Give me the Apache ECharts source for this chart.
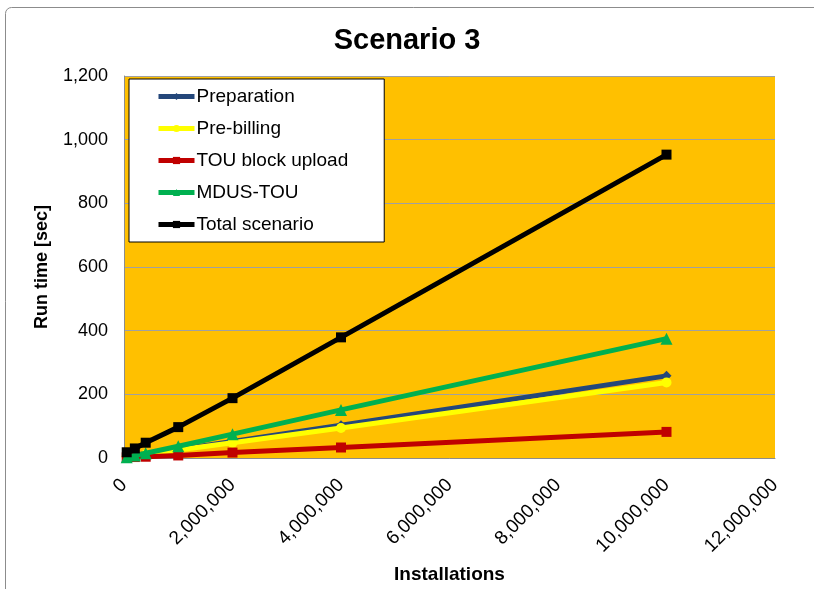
<!DOCTYPE html>
<html>
<head>
<meta charset="utf-8">
<script src="https://cdn.jsdelivr.net/npm/echarts@6/dist/echarts.min.js"></script>
<style>
  html, body { margin: 0; padding: 0; background: #ffffff; }
  #chart { width: 814px; height: 589px; }
</style>
</head>
<body>
<div id="chart"></div>
<script>
// Number of installations (x) and run times in seconds (y) per step
const installations = [50000, 200000, 400000, 1000000, 2000000, 4000000, 10000000];
const preparation   = [5, 8, 12, 27, 52, 103, 258];
const preBilling    = [4, 7, 11, 25, 48, 94, 237];
const touUpload     = [2, 3, 4, 8, 17, 33, 82];
const mdusTou       = [2, 8, 15, 37, 75, 151, 375];
const totalScenario = [18, 30, 48, 97, 188, 379, 953];

const seriesNames = ['Preparation', 'Pre-billing', 'TOU block upload', 'MDUS-TOU', 'Total scenario'];
const seriesValues = [preparation, preBilling, touUpload, mdusTou, totalScenario];
const seriesColors = ['#24477A', '#FFFF00', '#C00000', '#00B050', '#000000'];
const seriesSymbols = ['diamond', 'circle', 'rect', 'triangle', 'rect'];

const FONT = '"Liberation Sans", Arial, sans-serif';
const fmt = v => Number(v).toLocaleString('en-US');

const chart = echarts.init(document.getElementById('chart'), null, { renderer: 'canvas' });

chart.setOption({
  animation: false,
  backgroundColor: '#ffffff',
  graphic: [{
    type: 'rect',
    shape: { x: 5.5, y: 7.5, width: 830, height: 620, r: 6 },
    style: { fill: 'none', stroke: '#8c8c8c', lineWidth: 1 },
    z: -1
  }],
  title: {
    text: 'Scenario 3',
    left: 'center',
    top: 21,
    textStyle: { fontFamily: FONT, fontSize: 29, fontWeight: 'bold', color: '#000' }
  },
  grid: {
    left: 124, right: 39, top: 76, bottom: 130,
    show: true, backgroundColor: '#FFC000', borderWidth: 0
  },
  legend: {
    left: 129, top: 79,
    orient: 'vertical',
    backgroundColor: '#ffffff',
    borderColor: '#000000',
    borderWidth: 1,
    padding: [8, 36, 8, 27],
    itemGap: 13,
    itemWidth: 36,
    itemHeight: 9,
    textStyle: { fontFamily: FONT, fontSize: 19, color: '#000', padding: [0, 0, 0, -3] },
    data: seriesNames.map((name, i) => ({
      name,
      lineStyle: { color: seriesColors[i], width: 5 },
      itemStyle: { color: seriesColors[i] }
    }))
  },
  xAxis: {
    type: 'value',
    min: 0, max: 12000000, interval: 2000000,
    name: 'Installations',
    nameLocation: 'middle',
    nameGap: 107,
    nameTextStyle: { fontFamily: FONT, fontSize: 19, fontWeight: 'bold', color: '#000' },
    axisLine: { show: true, lineStyle: { color: '#8c8c8c', width: 1 } },
    axisTick: { show: false },
    splitLine: { show: false },
    axisLabel: {
      rotate: 45, margin: 24,
      fontFamily: FONT, fontSize: 19, color: '#000',
      formatter: fmt
    }
  },
  yAxis: {
    type: 'value',
    min: 0, max: 1200, interval: 200,
    name: 'Run time [sec]',
    nameLocation: 'middle',
    nameGap: 73,
    nameTextStyle: { fontFamily: FONT, fontSize: 18, fontWeight: 'bold', color: '#000' },
    axisLine: { show: true, lineStyle: { color: '#8c8c8c', width: 1 } },
    axisTick: { show: false },
    splitLine: { show: true, lineStyle: { color: '#a0a0a0', width: 1 } },
    axisLabel: {
      margin: 16,
      fontFamily: FONT, fontSize: 18, color: '#000',
      formatter: fmt
    }
  },
  series: seriesNames.map((name, i) => ({
    name,
    type: 'line',
    data: installations.map((x, j) => [x, seriesValues[i][j]]),
    symbol: seriesSymbols[i],
    symbolSize: seriesSymbols[i] === 'triangle' ? 12 : 10,
    showAllSymbol: true,
    lineStyle: { color: seriesColors[i], width: 5 },
    itemStyle: { color: seriesColors[i] },
    z: 2 + i
  }))
});
</script>
</body>
</html>
